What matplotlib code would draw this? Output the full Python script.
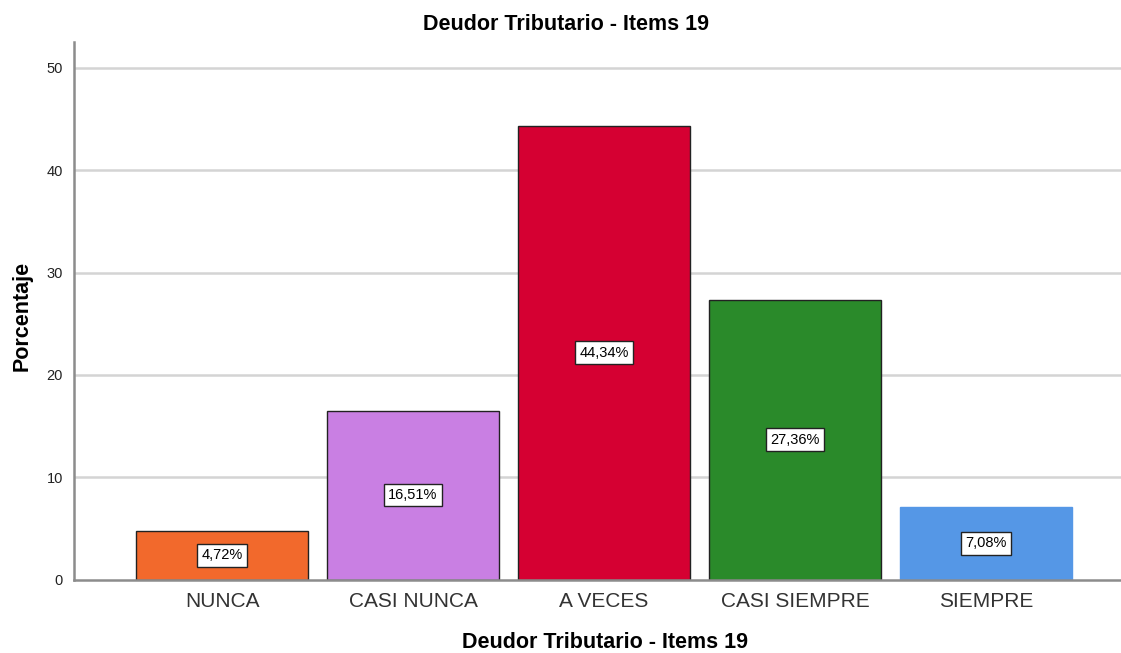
import matplotlib.pyplot as plt

categories = ["NUNCA", "CASI NUNCA", "A VECES", "CASI SIEMPRE", "SIEMPRE"]
percentages = [4.72, 16.51, 44.34, 27.36, 7.08]
colors = ["#F2692C", "#C97FE3", "#D50032", "#2A8A2A", "#5597E6"]
edge_colors = ["#222222", "#222222", "#222222", "#222222", "#5597E6"]
y_ticks = [0, 10, 20, 30, 40, 50]

plt.rcParams["font.family"] = ["Liberation Sans", "DejaVu Sans"]

fig = plt.figure(figsize=(11.21, 6.53), dpi=100)
ax = fig.add_axes([74 / 1121, 73.5 / 653, 1 - 74 / 1121, (579.5 - 42) / 653])

# gridlines behind the bars
for t in y_ticks[1:]:
    ax.axhline(t, color="#D4D4D4", linewidth=1.8, zorder=0)

x = range(len(categories))
bars = ax.bar(x, percentages, width=0.9, color=colors, edgecolor=edge_colors,
              linewidth=1.0, zorder=2)

for i, v in enumerate(percentages):
    label = f"{v:.2f}%".replace(".", ",")
    ax.text(i, v / 2, label, ha="center", va="center", fontsize=10.5, color="black",
            zorder=3,
            bbox=dict(boxstyle="square,pad=0.3", facecolor="white",
                      edgecolor="#222222", linewidth=1.0))

ax.set_xlim(-0.775, 4.707)
ax.set_ylim(0, 52.54)
ax.set_yticks(y_ticks)
ax.set_yticklabels([str(t) for t in y_ticks], fontsize=10.5, color="#222222")
ax.set_xticks(list(x))
ax.set_xticklabels(categories, fontsize=15, color="#333333")
ax.tick_params(axis="x", length=0, pad=9)
ax.tick_params(axis="y", length=0, pad=8)

for side in ["top", "right"]:
    ax.spines[side].set_visible(False)
for side in ["left", "bottom"]:
    ax.spines[side].set_color("#8C8C8C")
    ax.spines[side].set_linewidth(1.8)

fig.text(0.505, 0.963, "Deudor Tributario - Items 19", fontsize=15.5,
         fontweight="bold", ha="center", va="center")
ax.set_xlabel("Deudor Tributario - Items 19", fontsize=15.5, fontweight="bold", labelpad=15)
ax.xaxis.label.set_x(0.507)
ax.set_ylabel("Porcentaje", fontsize=15.5, fontweight="bold", labelpad=10)
ax.yaxis.label.set_y(0.49)

fig.savefig("out.png", dpi=100)
